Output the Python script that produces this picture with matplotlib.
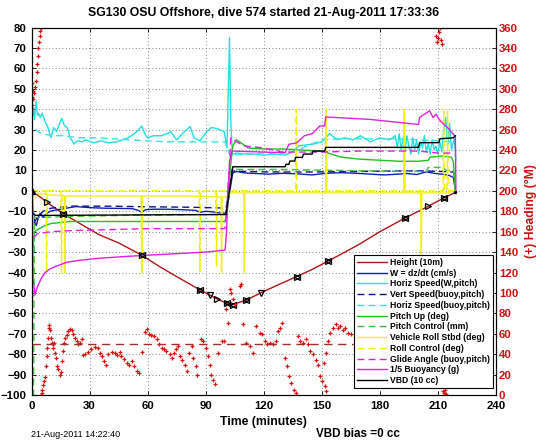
import matplotlib
matplotlib.use("Agg")
import matplotlib.pyplot as plt
import numpy as np

plt.rcParams['font.family'] = ['Liberation Sans', 'DejaVu Sans']

# ---- data (time in minutes) ----
# Height (10m)
height_t = [0, 5, 10, 17, 25, 35, 45, 51, 57, 66, 75, 87, 96, 103, 111, 119, 128, 137, 145, 153, 162, 170, 180, 193, 201, 205, 213, 219]
height_v = [0, -3.4, -7, -11.5, -16, -21.5, -25.5, -28.5, -31.5, -37, -42, -48.5, -53, -56, -53.5, -49.7, -45.8, -42, -38.5, -34.5, -30, -25.8, -20, -13.3, -9.5, -7.5, -3.5, -0.8]
gc_bowtie_t = [16.5, 57, 87, 101, 104, 110.7, 137, 153, 193, 213]
gc_right_t = [7.8, 96, 205]
gc_down_t = [92, 118.8]

# W = dz/dt (cm/s)
w_t = [0, 0.5, 1.5, 2.5, 3.5, 4.5, 6, 8, 9.5, 12, 15, 18, 21, 23, 27, 32, 38, 45, 52, 55, 57, 59, 63, 70, 77, 82, 85, 87, 90, 94, 97, 100, 101, 102.5, 104, 106, 110, 116, 122, 130, 138, 145, 152, 160, 168, 175, 182, 188, 194, 199, 204, 208, 212, 216, 218, 219]
w_v = [0, -6, -15, -17, -13, -11, -13, -11, -10, -9.5, -9, -8.5, -8, -7.7, -8, -8.3, -8.5, -8.6, -8.7, -9.5, -10.5, -9.2, -9, -9, -9.2, -9.4, -9.6, -10.5, -10, -10.3, -10.8, -11, -9, 0, 8.8, 9.5, 8.8, 8.5, 8.2, 8.6, 8.3, 7.8, 8.6, 8.9, 8.6, 8.2, 7.8, 8.1, 8.5, 8.0, 9.3, 8.6, 8.2, 7.5, 6.5, 0]

# Horiz Speed(W,pitch)
hs_t = [0.3, 0.9, 1.5, 2.4, 3, 3.7, 4.5, 5.5, 7, 8.5, 10, 11.5, 13, 14.5, 15.6, 17, 18.5, 20, 22, 24, 26, 28, 32, 36, 40, 44, 47, 50, 53, 55, 57, 58.5, 60, 63, 67, 70, 72, 75, 79, 82, 84, 87, 90.5, 93, 96, 99.6, 101, 102.3, 103, 103.8, 106, 110, 115, 120, 125, 131, 135, 138, 142, 146, 150, 154, 158, 162, 166, 170, 175, 180, 185, 188, 189, 190, 191, 192, 193, 194, 195, 196, 197, 198, 199, 200, 201, 202, 203, 204, 205, 206, 207, 208, 209, 210, 211, 212, 213, 214, 215, 216, 217, 218.5, 219.3]
hs_v = [35, 40.8, 35, 44, 37, 38, 36, 38, 34, 31, 26, 31, 29, 33, 35.5, 32, 31, 26, 23, 24.5, 24, 25, 23.5, 24.5, 23.5, 24, 25, 26, 28, 29.5, 31.8, 28, 26, 27, 27, 28, 29, 25, 29, 31.5, 26, 24.5, 29, 31, 30.5, 29, 21, 75, 33, 18, 18.5, 18, 18, 17.5, 18, 17.5, 19, 22, 22.5, 23, 24, 28, 25, 26, 25, 27, 24, 26, 25, 27, 21, 28, 20, 26, 19, 27, 22, 18, 26, 20, 25, 18, 24, 21, 27, 19, 23, 18, 25, 20, 22, 18, 24, 19, 30, 36, 22, 33, 20, 26, 15]

# Vert Speed(buoy,pitch)
vs_t = [1, 3, 6, 10, 20, 40, 60, 80, 95, 100.5, 102, 103.5, 106, 120, 140, 160, 180, 200, 212, 218]
vs_v = [-16, -13, -10, -8.5, -7.5, -7.5, -7.8, -8, -8.3, -8.5, 0, 9.8, 9.6, 9.3, 9.2, 9.4, 9.6, 9.8, 9.5, 9.2]

# Horiz Speed(buoy,pitch)
hsb_t = [2, 5, 8, 12, 16, 20, 25, 35, 50, 60, 70, 80, 90, 100, 101.5, 103, 105, 110, 120, 130, 135, 140, 145, 150, 160, 170, 180, 190, 200, 210, 216, 218]
hsb_v = [30, 28, 27.5, 27, 27, 26.5, 26, 26, 25, 24.5, 24, 24, 24, 24, 20, 17, 17.5, 18, 18.5, 18.5, 19.5, 21, 23, 25, 25.5, 25.5, 25.5, 25.5, 25, 24.5, 24, 24]

# Pitch Up (deg)
pu_t = [0, 0.3, 0.6, 1.5, 3, 5, 7, 10, 15, 20, 30, 50, 70, 90, 100, 101, 102, 104, 106, 109, 112, 120, 130, 140, 150, 155, 160, 170, 180, 190, 200, 205, 206, 212, 217, 218, 219]
pu_v = [0, -74, -30, -20, -19, -18, -17, -16, -15.5, -15, -15, -15, -15, -15, -15, -10, 5, 22, 25, 23, 21, 20.5, 20.5, 20, 19.5, 18, 16.5, 15.5, 15, 14.5, 14.5, 15, 16.5, 17, 16.5, 14, 0]

# Pitch Control (mm)
pc_t = [0, 0.5, 1, 1.5, 5, 20, 50, 100, 101, 103, 105, 130, 160, 190, 204, 205, 213, 214, 218, 219]
pc_v = [0, -110, -110, -13, -13, -12.5, -12, -11.5, -11.5, 10.5, 10.5, 10.5, 10, 9.5, 9.5, 11.5, 11.5, 10, 10, 0]

# Vehicle Roll Stbd (deg)
roll_t = [0, 0.5, 1, 1.5, 10, 17, 17.3, 17.6, 30, 56.7, 57, 57.3, 80, 97.9, 98.2, 98.5, 101, 103, 109.7, 110, 110.3, 130, 152, 152.3, 152.6, 180, 192.4, 192.7, 193, 201.1, 201.4, 201.7, 215, 218, 219]
roll_v = [0, -40, -2, -1, -2, -2.5, -40, -2.5, -2.5, -2.5, -40, -2.5, -2.5, -3, -40, -3, -3, -1, -1, -40, -1, -1, -1, 40, -1, -1, -1, 39, -1, -1, -40, -1, -1, 0, 0]

# Roll Control (deg)
rc_t = [0, 7.5, 7.8, 8.1, 15.2, 15.5, 15.8, 86.7, 87, 87.3, 95.3, 95.6, 95.9, 136.5, 136.8, 137.1, 192.3, 192.6, 192.9, 212.7, 213, 213.3, 214.7, 215, 215.3, 219]
rc_v = [0, 0, -40, 0, 0, -40, 0, 0, -39.5, 0, 0, -37, 0, 0, 40, 0, 0, 40, 0, 0, 39, 0, 0, 39, 0, 0]

# Glide Angle (buoy,pitch)
ga_t = [1, 3, 10, 20, 40, 60, 80, 100, 101.5, 103, 106, 110, 120, 130, 140, 150, 170, 190, 200, 210, 218]
ga_v = [-23, -21, -20, -19.5, -19, -18.5, -18.5, -18.5, 0, 26, 24, 22, 21, 19, 19, 19, 19.5, 19.5, 19.5, 18.5, 18.5]

# 1/5 Buoyancy (g)
bu_t = [0, 0.8, 1.8, 3, 5, 7, 10, 14, 18, 25, 35, 51, 70, 90, 100, 100.8, 101.5, 102.5, 103.5, 110, 120, 131, 133, 137, 141, 145, 149, 151.5, 152, 175, 190, 200, 200.5, 205.7, 207.5, 209, 211, 216, 219, 219.3]
bu_v = [42, -43, -51, -47, -43, -40, -38, -36.5, -35, -34, -33, -32, -31, -30, -29, -20, 0, 15, 19.5, 19.3, 19, 18.7, 22.8, 23.5, 27, 28, 31.8, 31.8, 36.2, 35, 33.5, 32.5, 36, 39.2, 35.9, 37.5, 34.5, 30, 26.6, 0]

# VBD (10 cc)
vbd_t = [0, 0.3, 0.6, 2, 10, 50, 100, 100.5, 104, 131, 131.5, 133, 133.5, 136, 136.5, 140, 140.5, 145, 145.5, 151.5, 152, 200, 200.5, 210.5, 211, 218, 219]
vbd_v = [0, -2, -11, -12, -12, -11.8, -11.6, -11.6, 11.8, 11.8, 13, 13, 14.6, 14.6, 16.4, 16.4, 18, 18, 19.5, 19.5, 21.3, 21.3, 23.6, 23.6, 25.5, 26, 27]

# Heading (deg magnetic), right axis, as (time, heading) pairs
heading = [
    (0.0, 280), (0.2, 284), (0.3, 292), (0.4, 300), (0.5, 306), (0.7, 298), (1.0, 290), (1.4, 296),
    (1.8, 302), (2.2, 308), (2.6, 316), (3.0, 324), (3.3, 332), (3.6, 340), (3.9, 346), (4.2, 352),
    (4.5, 357), (4.8, 360), (5.0, 0.5), (5.25, 2), (5.6, 5), (6.1, 10), (6.5, 14), (7.0, 18), (7.5, 28),
    (7.8, 38), (8.2, 46), (8.7, 56), (9.0, 66), (9.2, 69), (9.6, 64), (10.1, 56), (10.4, 51), (10.9, 49.5),
    (11.3, 46), (11.6, 51), (12.1, 41), (12.6, 36), (13.3, 28), (13.9, 25), (14.7, 20), (15.2, 23),
    (15.9, 33), (16.4, 43), (17.0, 51), (17.5, 56), (18.2, 59), (19.0, 62.6), (19.9, 64.3), (20.7, 63.3),
    (21.6, 59.3), (22.5, 56), (23.3, 52.8), (24.2, 49.5), (25.0, 51.1), (25.9, 54.4),
    (26.4, 39), (27.6, 40.3), (29.3, 42.3), (31.0, 44.6), (32.8, 46.9), (34.5, 46.2), (35.3, 41.3),
    (36.2, 38), (37.4, 33.1), (38.4, 29.8), (39.7, 39.7), (41.4, 42.3), (43.1, 41.3), (44.3, 39),
    (45.7, 42.3), (46.5, 38), (47.9, 35.7), (49.1, 31.5), (50.5, 29.8), (51.7, 33.1), (52.9, 28.2),
    (54.3, 23.9), (55.6, 21.6), (56.9, 42.3),
    (58.6, 61.9), (59.8, 64.3), (60.8, 60), (62.0, 58.7), (63.2, 57.7), (64.6, 54.4), (65.9, 49.5),
    (67.2, 46.2), (68.5, 44.6), (69.7, 42.9), (71.5, 39.7), (72.8, 36.4), (73.7, 41.3), (74.9, 44.6),
    (75.8, 47.9), (76.6, 38), (78.0, 34.7), (79.2, 29.8), (80.1, 23.3), (81.4, 41.3), (82.7, 47.9),
    (83.5, 36.4), (84.9, 28.2), (85.7, 20), (87.8, 54.4), (88.7, 52.8), (90.4, 46.2), (91.3, 38),
    (92.1, 29.8), (93.0, 20), (93.8, 15.1), (94.7, 10.8), (96.4, 41.3), (98.6, 53.4), (99.3, 53.4),
    (100.7, 84), (101.6, 71), (102.4, 103.7), (103.3, 100.4), (104.1, 93.8), (105.0, 88.8),
    (107.6, 107), (108.4, 108.6), (109.3, 69.2), (111.0, 51.1), (112.7, 47.8), (114.5, 41.3),
    (116.2, 67.5), (117.9, 61), (119.3, 60), (120.5, 52.8), (121.7, 49.5), (123.1, 51.1), (124.8, 49.5),
    (126.2, 52.8), (127.4, 62.6), (128.6, 65.9), (129.6, 70.8), (130.8, 36.4), (132.0, 28.2),
    (133.1, 18.3), (134.1, 11.8), (135.5, 5.2), (136.5, 2), (137.7, 57.7), (138.9, 52.8), (140.3, 51.1),
    (141.6, 54.4), (142.8, 49.5), (144.1, 42.9), (145.4, 39.7), (146.8, 34.7), (148.0, 29.8),
    (149.2, 18.3), (150.2, 13.4), (151.5, 8.5), (152.3, 3.6), (150.9, 31.5), (152.0, 41.3), (153.2, 52.8),
    (154.0, 61), (155.8, 65.9), (157.1, 69.2), (158.3, 65.9), (159.5, 67.5), (160.9, 63.3), (161.8, 65.9),
    (163.5, 61), (165.2, 59.3),
    (209.2, 352), (209.5, 346), (210.0, 350), (210.5, 356), (211.0, 360), (211.5, 348), (212.0, 344),
    (212.5, 4), (213.0, 2), (213.5, 5), (214.0, 1),
]
hd_desired = 50

labels = ['Height (10m)', 'W = dz/dt (cm/s)', 'Horiz Speed(W,pitch)', 'Vert Speed(buoy,pitch)',
          'Horiz Speed(buoy,pitch)', 'Pitch Up (deg)', 'Pitch Control (mm)', 'Vehicle Roll Stbd (deg)',
          'Roll Control (deg)', 'Glide Angle (buoy,pitch)', '1/5 Buoyancy (g)', 'VBD (10 cc)']

fig = plt.figure(figsize=(5.46, 4.42), dpi=100)
ax = fig.add_axes([0.0577, 0.1063, 0.8507, 0.8314])

lines = []
lines += ax.plot(height_t, height_v, color='#B01515', lw=1)
lines += ax.plot(w_t, w_v, color='#1020B0', lw=1)
lines += ax.plot(hs_t, hs_v, color='#20E0E0', lw=1)
lines += ax.plot(vs_t, vs_v, color='#101090', lw=1, ls='--', dashes=(5, 3))
lines += ax.plot(hsb_t, hsb_v, color='#40E0E0', lw=1, ls='--', dashes=(5, 3))
lines += ax.plot(pu_t, pu_v, color='#20C020', lw=1)
lines += ax.plot(pc_t, pc_v, color='#40C040', lw=1, ls='--', dashes=(5, 3))
lines += ax.plot(roll_t, roll_v, color='#F0F020', lw=1)
lines += ax.plot(rc_t, rc_v, color='#F0F000', lw=1, ls='--', dashes=(5, 3))
lines += ax.plot(ga_t, ga_v, color='#E020E0', lw=1, ls='--', dashes=(5, 3))
lines += ax.plot(bu_t, bu_v, color='#E020E0', lw=1)
lines += ax.plot(vbd_t, vbd_v, color='black', lw=1)

# GC markers on the height trace
bt = np.array(gc_bowtie_t)
ax.plot(bt, np.interp(bt, height_t, height_v), '>', ms=4.5, mfc='none', mec='black', mew=0.9)
ax.plot(bt, np.interp(bt, height_t, height_v), '<', ms=4.5, mfc='none', mec='black', mew=0.9)
rt = np.array(gc_right_t)
ax.plot(rt, np.interp(rt, height_t, height_v), '>', ms=5, mfc='none', mec='black', mew=0.9)
dt = np.array(gc_down_t)
ax.plot(dt, np.interp(dt, height_t, height_v), 'v', ms=5, mfc='none', mec='black', mew=0.9)
ax.plot([0], [0], '^', ms=5, color='black')
ax.plot([height_t[-1]], [height_v[-1]], '.', ms=3, color='black')

ax.set_xlim(0, 240)
ax.set_ylim(-100, 80)
ax.set_xticks(range(0, 241, 30))
ax.set_yticks(range(-100, 81, 10))
ax.grid(True, color='#606060', ls=(0, (1, 3)), lw=0.6)
ax.tick_params(labelsize=8.2, length=3, width=0.6, direction='in', top=True)
ax.tick_params(axis='x', pad=4)
for lab in ax.get_xticklabels() + ax.get_yticklabels():
    lab.set_fontweight('bold')
ax.set_xlabel('Time (minutes)', fontsize=8.8, fontweight='bold', labelpad=4)
ax.set_title('SG130 OSU Offshore, dive 574 started 21-Aug-2011 17:33:36',
             fontsize=8.8, fontweight='bold', pad=8)

ax2 = ax.twinx()
ax2.set_ylim(0, 360)
ax2.set_yticks(range(0, 361, 20))
ax2.tick_params(labelsize=8.2, length=3, width=0.6, direction='in', colors='#D01010', pad=2)
for lab in ax2.get_yticklabels():
    lab.set_fontweight('bold')
ax2.tick_params(axis='y', color='black')
hd_t = [p[0] for p in heading]
hd_v = [p[1] for p in heading]
ax2.plot(hd_t, hd_v, '+', color='#E01010', ms=3.5, mew=0.9)
ax2.axhline(hd_desired, xmax=219 / 240, color='#A03030', lw=1, ls='--', dashes=(6, 4))
ax2.set_ylabel('(+) Heading (\u00b0M)', color='#D01010', fontsize=8.8, fontweight='bold', labelpad=5)

leg = ax2.legend(lines, labels, loc='upper left', bbox_to_anchor=(0.694, 0.381),
                 borderaxespad=0, fontsize=6.2, handlelength=3.5, handletextpad=0.4,
                 labelspacing=0.2, borderpad=0.35, fancybox=False, framealpha=1,
                 edgecolor='black')
leg.get_frame().set_linewidth(0.8)
for t in leg.get_texts():
    t.set_fontweight('bold')

for a in (ax, ax2):
    for s in a.spines.values():
        s.set_linewidth(0.8)

fig.text(0.057, 0.012, '21-Aug-2011 14:22:40', fontsize=6.5)
fig.text(0.655, 0.012, 'VBD bias =0 cc', fontsize=8.4, fontweight='bold', ha='center')

fig.savefig('out.png', dpi=100)
